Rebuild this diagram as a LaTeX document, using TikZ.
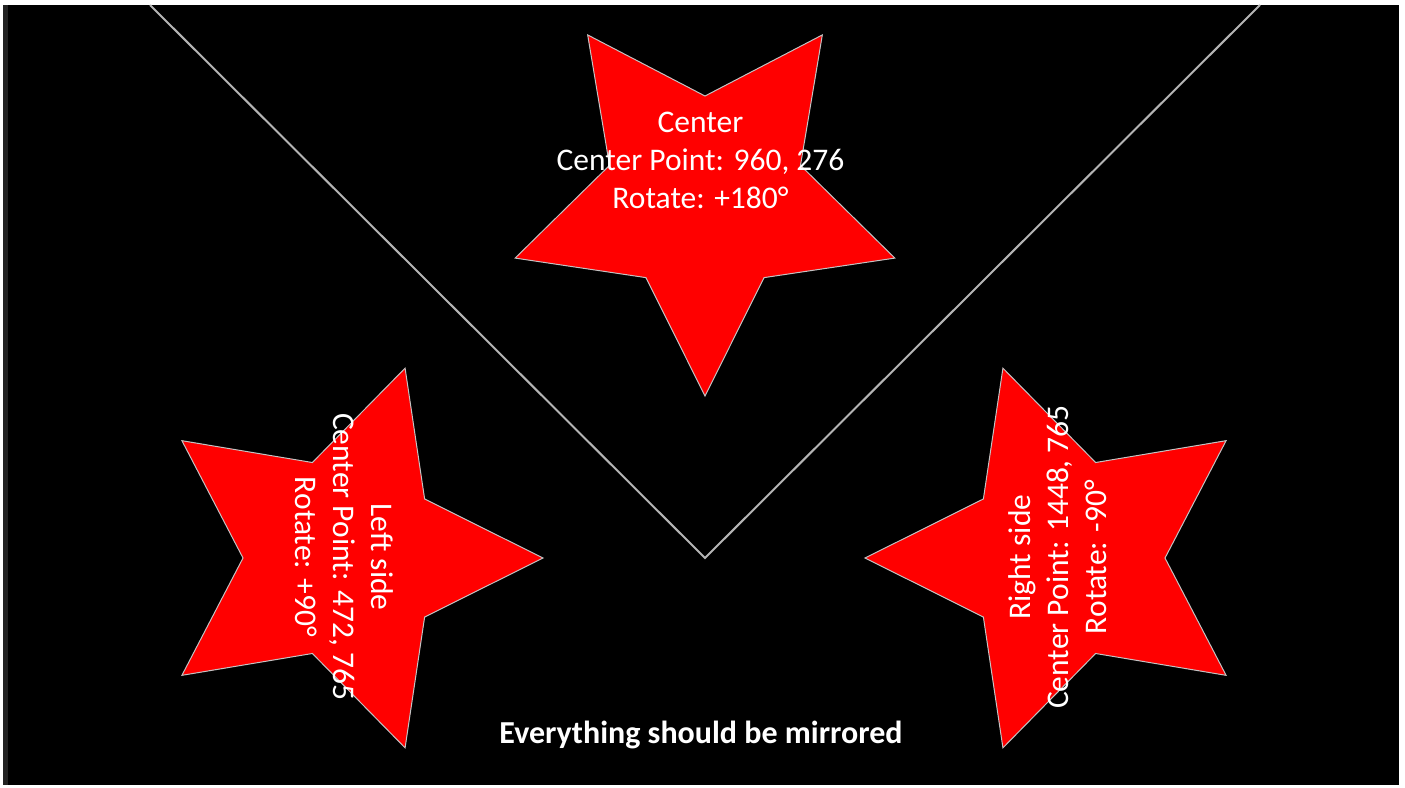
\documentclass[tikz,border=0pt]{standalone}
\usepackage{fontspec}
\setmainfont{Carlito}
\definecolor{starred}{HTML}{FF0000}
\definecolor{guide}{HTML}{B4B4B4}
\definecolor{strip}{HTML}{222222}
\tikzset{
  starshape/.style={fill=starred, draw=guide!80!white, line width=1pt, line join=miter},
  guideline/.style={draw=guide, line width=2pt},
  label/.style={text=white, font=\fontsize{31.5}{38}\selectfont, align=center, inner sep=0pt},
  caption/.style={text=white, font=\fontsize{32}{38}\selectfont\bfseries, inner sep=0pt}
}
\newcommand\drawredstar[3]{%
  \path[starshape] plot[variable=\k, samples at={0,...,9}]
    ({#1 + ifthenelse(mod(\k,2)==0,199.6,100.4)*cos(#3+36*\k)},
     {#2 + ifthenelse(mod(\k,2)==0,199.6,100.4)*sin(#3+36*\k)}) -- cycle;}
\begin{document}
\begin{tikzpicture}[x=1pt,y=-1pt]
\useasboundingbox (0,0) rectangle (1405,787);
\fill[white] (0,0) rectangle (1405,787);
\fill[strip] (3,5) rectangle (8,785);
\fill[black] (8,5) rectangle (1399,785);
% guide lines
\coordinate (tl) at (150,5);
\coordinate (v) at (705,558);
\coordinate (tr) at (1260,5);
\draw[guideline] (tl) -- (v) -- (tr);
% stars
\drawredstar{705}{196.4}{90}
\drawredstar{343.4}{558}{0}
\drawredstar{1064.6}{558}{180}
% labels
\node[label] (ctext) at (700.5,160) {Center\\Center Point: 960, 276\\Rotate: +180°};
\node[label, rotate=-90] (ltext) at (344,557) {Left side\\Center Point: 472, 765\\Rotate: +90°};
\node[label, rotate=90] (rtext) at (1058,557) {Right side\\Center Point: 1448, 765\\Rotate: -90°};
\node[caption] (cap) at (701,735) {Everything should be mirrored};
\end{tikzpicture}
\end{document}
